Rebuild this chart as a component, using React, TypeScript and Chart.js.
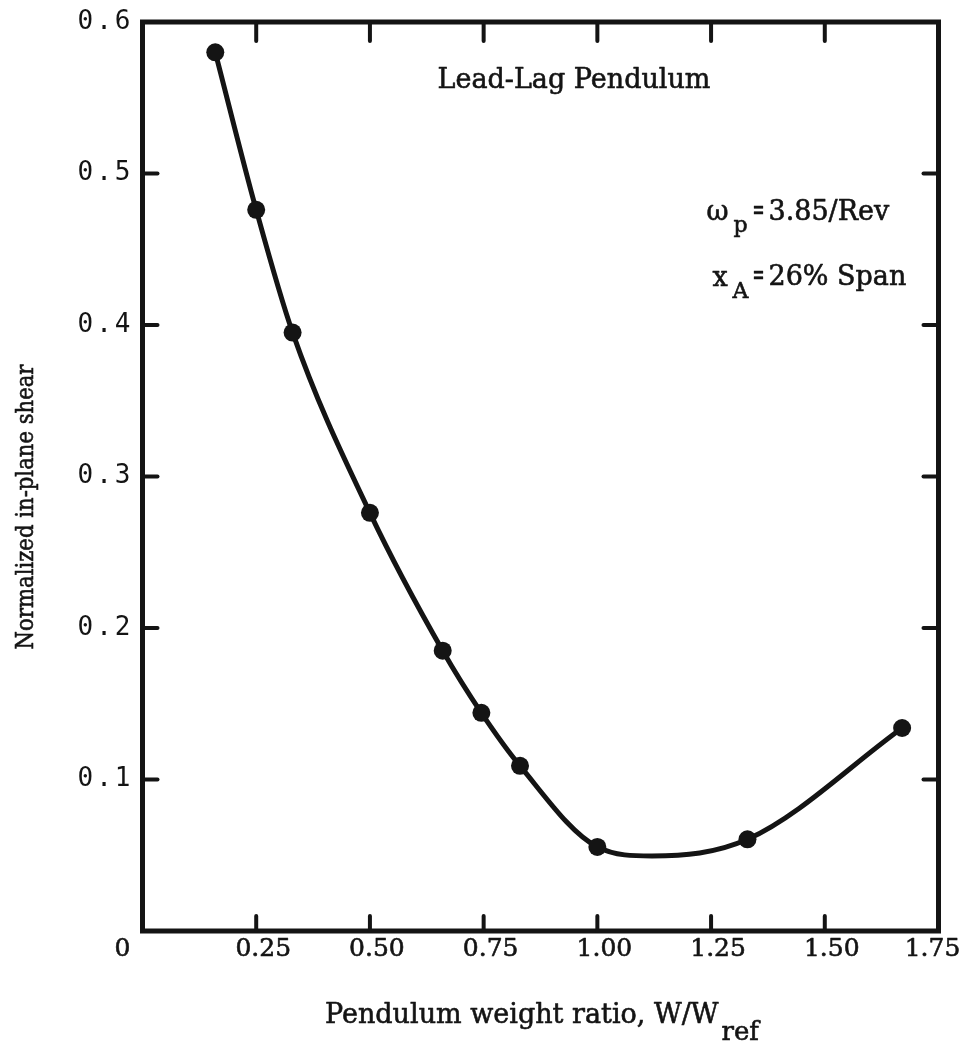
import React, { useEffect, useRef } from 'react';
import { Chart, registerables } from 'chart.js';

Chart.register(...registerables);

// Measured test points: pendulum weight ratio vs normalized in-plane shear
const weightRatio = [0.16, 0.25, 0.33, 0.5, 0.66, 0.745, 0.83, 1.0, 1.33, 1.67];
const inPlaneShear = [0.58, 0.476, 0.395, 0.276, 0.185, 0.144, 0.109, 0.0555, 0.0605, 0.134];

// Faired curve (passes through the points, with its minimum)
const curveRatio = [0.16, 0.25, 0.33, 0.5, 0.66, 0.745, 0.83, 1.0, 1.12, 1.33, 1.67];
const curveShear = [0.58, 0.476, 0.395, 0.276, 0.185, 0.144, 0.109, 0.0555, 0.0495, 0.0605, 0.134];

// Axis ticks and labels
const xTickValues = [0, 0.25, 0.5, 0.75, 1.0, 1.25, 1.5, 1.75];
const xTickLabels = ['0', '0.25', '0.50', '0.75', '1.00', '1.25', '1.50', '1.75'];
const yTickValues = [0, 0.1, 0.2, 0.3, 0.4, 0.5, 0.6];
const yTickLabels = ['', '0.1', '0.2', '0.3', '0.4', '0.5', '0.6'];

const xTitle = 'Pendulum weight ratio, W/W';
const xTitleSub = 'ref';
const yTitle = 'Normalized in-plane shear';
const annoTitle = 'Lead-Lag Pendulum';
const annoOmega = ['ω', 'p', '=', '3.85/Rev'];
const annoSpan = ['x', 'A', '=', '26% Span'];

const INK = '#141414';
const SERIF = '"DejaVu Serif", serif';

const framePlugin = {
  id: 'framePlugin',
  beforeDraw(chart: any) {
    // typewriter-like spacing for the y tick labels drawn by the scale
    (chart.ctx as any).letterSpacing = '3px';
  },
  afterDraw(chart: any) {
    const { ctx, chartArea: a, scales } = chart;
    (ctx as any).letterSpacing = '0px';
    const xs = scales.x;
    const ys = scales.y;
    ctx.save();
    ctx.strokeStyle = INK;
    ctx.fillStyle = INK;

    // frame
    ctx.lineWidth = 5;
    ctx.lineJoin = 'miter';
    ctx.strokeRect(a.left, a.top, a.right - a.left, a.bottom - a.top);

    // inward tick marks
    ctx.lineWidth = 4;
    ctx.lineCap = 'round';
    const seg = (x1: number, y1: number, x2: number, y2: number) => {
      ctx.beginPath();
      ctx.moveTo(x1, y1);
      ctx.lineTo(x2, y2);
      ctx.stroke();
    };
    xTickValues.forEach((v, i) => {
      if (i === 0 || i === xTickValues.length - 1) return;
      const px = xs.getPixelForValue(v);
      seg(px, a.bottom, px, a.bottom - 15);
      seg(px, a.top, px, a.top + 19);
    });
    yTickValues.forEach((v, i) => {
      if (i === 0 || i === yTickValues.length - 1) return;
      const py = ys.getPixelForValue(v);
      seg(a.left, py, a.left + 15, py);
      seg(a.right, py, a.right - 15, py);
    });

    // text helper: fill plus a hairline stroke for print-like weight
    ctx.lineWidth = 0.6;
    ctx.lineCap = 'butt';
    ctx.lineJoin = 'round';
    const text = (s: string, x: number, y: number, maxW?: number) => {
      if (maxW) {
        ctx.fillText(s, x, y, maxW);
        ctx.strokeText(s, x, y, maxW);
      } else {
        ctx.fillText(s, x, y);
        ctx.strokeText(s, x, y);
      }
    };

    // x tick labels
    ctx.font = `25px ${SERIF}`;
    ctx.textBaseline = 'alphabetic';
    ctx.textAlign = 'center';
    xTickValues.forEach((v, i) => {
      const px = xs.getPixelForValue(v);
      let cx = px + 7;
      if (i === 0) cx = px - 20;
      if (i === xTickValues.length - 1) cx = px - 6;
      text(xTickLabels[i], cx, a.bottom + 25);
    });

    // x title with subscript
    ctx.textAlign = 'left';
    ctx.font = `27px ${SERIF}`;
    const tx = 325;
    text(xTitle, tx, a.bottom + 92, 400);
    const w = Math.min(400, ctx.measureText(xTitle).width);
    ctx.font = `26px ${SERIF}`;
    text(xTitleSub, tx + w + 3, a.bottom + 109);

    // y title (rotated)
    ctx.save();
    ctx.translate(33, 507);
    ctx.rotate(-Math.PI / 2);
    ctx.textAlign = 'center';
    ctx.font = `25px ${SERIF}`;
    text(yTitle, 0, 0, 285);
    ctx.restore();

    // annotations
    ctx.textAlign = 'left';
    ctx.font = `27px ${SERIF}`;
    text(annoTitle, a.left + 295, a.top + 66);

    ctx.font = `27px ${SERIF}`;
    text(annoOmega[0], a.left + 564, a.top + 198);
    ctx.font = `22px ${SERIF}`;
    text(annoOmega[1], a.left + 591, a.top + 210);
    ctx.font = `27px ${SERIF}`;
    text(annoOmega[2], a.left + 610, a.top + 197, 12);
    text(annoOmega[3], a.left + 626, a.top + 198);

    text(annoSpan[0], a.left + 570, a.top + 264);
    ctx.font = `22px ${SERIF}`;
    text(annoSpan[1], a.left + 590, a.top + 276);
    ctx.font = `27px ${SERIF}`;
    text(annoSpan[2], a.left + 610, a.top + 262, 12);
    text(annoSpan[3], a.left + 626, a.top + 263);

    ctx.restore();
  },
};

export default function App() {
  const canvasRef = useRef<HTMLCanvasElement | null>(null);

  useEffect(() => {
    const canvas = canvasRef.current;
    if (!canvas) return;
    const chart = new Chart(canvas, {
      type: 'scatter',
      data: {
        datasets: [
          {
            label: 'curve',
            data: curveRatio.map((x, i) => ({ x, y: curveShear[i] })),
            showLine: true,
            borderColor: INK,
            borderWidth: 5,
            pointRadius: 0,
            cubicInterpolationMode: 'monotone',
            fill: false,
            order: 2,
          } as any,
          {
            label: 'points',
            data: weightRatio.map((x, i) => ({ x, y: inPlaneShear[i] })),
            showLine: false,
            pointRadius: 9,
            pointBackgroundColor: INK,
            pointBorderWidth: 0,
            order: 1,
          } as any,
        ],
      },
      options: {
        responsive: false,
        animation: false,
        events: [],
        layout: { padding: { top: 22, right: 32.5, left: 0, bottom: 0 } },
        plugins: { legend: { display: false }, tooltip: { enabled: false } },
        scales: {
          x: {
            type: 'linear',
            min: 0,
            max: 1.75,
            ticks: { stepSize: 0.25, display: false },
            grid: { display: false, drawTicks: false },
            border: { display: false },
            afterFit: (s: any) => {
              s.height = 115;
              s.paddingLeft = 0;
              s.paddingRight = 0;
            },
          },
          y: {
            type: 'linear',
            min: 0,
            max: 0.6,
            ticks: {
              stepSize: 0.1,
              padding: 9,
              color: INK,
              font: { family: '"DejaVu Sans Mono", monospace', size: 26 },
              callback: (v: any) => {
                const i = yTickValues.findIndex((t) => Math.abs(t - Number(v)) < 1e-6);
                return i >= 0 ? yTickLabels[i] : '';
              },
            },
            grid: { display: false, drawTicks: false },
            border: { display: false },
            afterFit: (s: any) => {
              s.width = 142.5;
              s.paddingTop = 0;
              s.paddingBottom = 0;
            },
          },
        },
      } as any,
      plugins: [framePlugin],
    });
    return () => chart.destroy();
  }, []);

  return (
    <div style={{ position: 'fixed', left: 0, top: 0, width: 971, height: 1046, background: '#fff' }}>
      <canvas ref={canvasRef} width={971} height={1046} style={{ width: 971, height: 1046, display: 'block' }} />
    </div>
  );
}
